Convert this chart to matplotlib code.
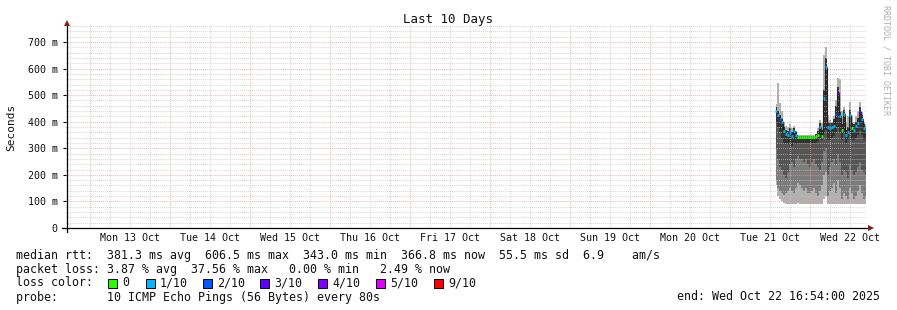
import pandas as pd
import matplotlib
matplotlib.use('Agg')
import matplotlib.pyplot as plt
import matplotlib.dates as mdates
from matplotlib.lines import Line2D
from matplotlib.patches import Rectangle
from matplotlib.ticker import MultipleLocator, FuncFormatter

# samples every 36 min, 21 Oct 13:48 .. 22 Oct 16:48 (values in ms)
times = pd.date_range('2025-10-21 13:48', periods=46, freq='36min')
median = [440, 425, 410, 400, 365, 355, 350, 360, 345, 365, 350, 343, 343, 343,
          343, 343, 343, 343, 343, 343, 345, 350, 380, 345, 490, 606, 380, 375,
          380, 385, 430, 508, 420, 370, 430, 350, 360, 425, 375, 370, 385, 395,
          437, 410, 375, 367]
smoke_max = [465, 545, 470, 440, 400, 385, 380, 390, 375, 385, 365, 350, 350, 350,
             350, 350, 350, 350, 350, 350, 355, 375, 405, 395, 650, 680, 425, 405,
             400, 420, 480, 565, 560, 440, 455, 400, 420, 475, 420, 400, 420, 440,
             475, 435, 400, 390]
smoke_hi = [455, 440, 425, 410, 380, 370, 365, 375, 360, 375, 360, 348, 348, 348,
            348, 348, 348, 348, 348, 348, 352, 365, 395, 370, 520, 640, 400, 395,
            395, 410, 460, 530, 440, 390, 445, 370, 380, 445, 395, 390, 400, 415,
            455, 425, 390, 380]
smoke_core = [400, 380, 360, 340, 320, 320, 315, 320, 310, 320, 315, 320, 320, 320,
              320, 320, 320, 320, 320, 320, 320, 325, 340, 330, 360, 370, 330, 330,
              340, 345, 360, 380, 360, 330, 360, 320, 330, 360, 330, 330, 340, 350,
              370, 350, 330, 330]
smoke_dark = [300, 260, 230, 220, 200, 190, 210, 240, 250, 230, 260, 270, 260, 260,
              250, 260, 240, 230, 250, 260, 240, 230, 220, 250, 290, 300, 200, 230,
              250, 260, 240, 280, 250, 200, 220, 210, 190, 240, 220, 200, 210, 230,
              250, 220, 210, 200]
smoke_mid = [180, 150, 140, 130, 125, 130, 140, 150, 140, 130, 150, 170, 160, 150,
             140, 150, 130, 130, 140, 150, 130, 120, 140, 160, 200, 210, 120, 140,
             150, 170, 130, 180, 150, 110, 130, 120, 110, 150, 130, 110, 120, 140,
             160, 130, 110, 120]
smoke_min = [160, 120, 110, 100, 95, 90, 90, 90, 90, 90, 90, 95, 90, 90, 90, 90, 90,
             90, 90, 90, 90, 90, 90, 90, 110, 120, 90, 90, 90, 90, 90, 90, 90, 90,
             90, 90, 90, 90, 90, 90, 90, 90, 90, 90, 90, 90]
loss = [1, 1, 2, 1, 1, 1, 1, 1, 1, 1, 1, 0, 0, 0, 0, 0, 0, 0, 0, 0, 0, 0, 1, 0, 1, 1,
        1, 1, 1, 1, 2, 3, 1, 0, 1, 1, 1, 1, 0, 1, 1, 1, 3, 1, 1, 1]

loss_labels = ['0', '1/10', '2/10', '3/10', '4/10', '5/10', '9/10']
loss_colors = ['#26ff00', '#00b8ff', '#0059ff', '#5e00ff', '#7e00ff', '#dd00ff', '#ff0000']
day_labels = ['Mon 13 Oct', 'Tue 14 Oct', 'Wed 15 Oct', 'Thu 16 Oct', 'Fri 17 Oct',
              'Sat 18 Oct', 'Sun 19 Oct', 'Mon 20 Oct', 'Tue 21 Oct', 'Wed 22 Oct']
end_time = pd.Timestamp('2025-10-22 16:54:00')

MONO = 'DejaVu Sans Mono'
W, H = 897, 310


def fx(px):
    return px / W


def fy(py):
    return 1 - py / H


fig = plt.figure(figsize=(W / 100, H / 100), dpi=100)
ax = fig.add_axes([fx(66), fy(228), 800 / W, (228 - 25) / H])

t = mdates.date2num(times)
ax.fill_between(t, smoke_min, smoke_max, step='mid', color='#b0b0b0', lw=0, zorder=1)
ax.fill_between(t, smoke_mid, smoke_hi, step='mid', color='#7c7c7c', lw=0, zorder=1.1)
ax.fill_between(t, smoke_dark, smoke_hi, step='mid', color='#555555', lw=0, zorder=1.2)
ax.fill_between(t, smoke_core, smoke_hi, step='mid', color='#333333', lw=0, zorder=1.3)

half = pd.Timedelta('18min')
ax.step(t, median, where='mid', color='#222222', lw=0.8, zorder=3)
ax.hlines(median, mdates.date2num(times - half), mdates.date2num(times + half),
          colors=[loss_colors[k] for k in loss], lw=2, zorder=4)

ax.set_xlim(mdates.date2num(end_time - pd.Timedelta(days=10)), mdates.date2num(end_time))
ax.set_ylim(0, 764)

ax.xaxis.set_major_locator(mdates.DayLocator())
ax.xaxis.set_minor_locator(mdates.HourLocator(byhour=[6, 12, 18]))
ax.xaxis.set_major_formatter(FuncFormatter(lambda v, p: ''))
ax.yaxis.set_major_locator(MultipleLocator(100))
ax.yaxis.set_minor_locator(MultipleLocator(20))
ax.yaxis.set_major_formatter(FuncFormatter(lambda v, p: '0' if v == 0 else '%d m' % v))

ax.set_axisbelow(False)
ax.grid(which='minor', color='#c4c4c4', lw=0.7, ls=(0, (0.7, 1.4)), zorder=2)
ax.grid(which='major', color='#e89a9a', lw=0.7, ls=(0, (0.7, 1.4)), zorder=2.1)

for s in ax.spines.values():
    s.set_visible(False)
ax.tick_params(axis='x', which='both', length=0, labelbottom=False)
ax.tick_params(axis='y', which='major', length=2, width=0.8, pad=4,
               labelsize=7.2, labelfontfamily=MONO, labelcolor='#111111')
ax.tick_params(axis='y', which='minor', length=0)

for i, lab in enumerate(day_labels):
    noon = pd.Timestamp('2025-10-13 12:00') + pd.Timedelta(days=i)
    ax.text(mdates.date2num(noon), -10 / 203, lab, transform=ax.get_xaxis_transform(),
            ha='center', va='center', fontsize=7.2, family=MONO, color='#111111')

# axes with arrows
fig.add_artist(Line2D([fx(62), fx(869)], [fy(228), fy(228)], color='black', lw=0.9))
fig.add_artist(Line2D([fx(66.5), fx(66.5)], [fy(232), fy(24)], color='black', lw=0.9))
fig.add_artist(Line2D([fx(870.5)], [fy(228)], marker='>', ms=4.5, color='#8b1a1a',
                      markeredgewidth=0))
fig.add_artist(Line2D([fx(66.5)], [fy(22.5)], marker='^', ms=4.5, color='#8b1a1a',
                      markeredgewidth=0))

fig.text(fx(448), fy(19), 'Last 10 Days', ha='center', va='center', fontsize=9,
         family=MONO, color='#111111')
fig.text(fx(11), fy(127), 'Seconds', rotation=90, ha='center', va='center',
         fontsize=8, family=MONO, color='#111111')
fig.text(fx(886), fy(5), 'RRDTOOL / TOBI OETIKER', rotation=270, ha='center', va='top',
         fontsize=6, family=MONO, color='#b0b0b0')

fs = 8.4
fig.text(fx(16), fy(255),
         'median rtt:  381.3 ms avg  606.5 ms max  343.0 ms min  366.8 ms now  '
         '55.5 ms sd  6.9    am/s', va='center', fontsize=fs, family=MONO, color='#111111')
fig.text(fx(16), fy(269),
         'packet loss: 3.87 % avg  37.56 % max   0.00 % min   2.49 % now',
         va='center', fontsize=fs, family=MONO, color='#111111')
fig.text(fx(16), fy(283), 'loss color:', va='center', fontsize=fs, family=MONO,
         color='#111111')
sq_x = [108, 146, 203, 260, 318, 376, 434]
for px, lab, col in zip(sq_x, loss_labels, loss_colors):
    fig.add_artist(Rectangle((fx(px), fy(287.5)), 9 / W, 9 / H, facecolor=col,
                             edgecolor='black', lw=0.7))
    fig.text(fx(px + 14), fy(283), lab, va='center', fontsize=fs, family=MONO,
             color='#111111')
fig.text(fx(16), fy(297), 'probe:       10 ICMP Echo Pings (56 Bytes) every 80s',
         va='center', fontsize=fs, family=MONO, color='#111111')
fig.text(fx(880), fy(297), 'end: Wed Oct 22 16:54:00 2025', ha='right', va='center',
         fontsize=fs, family=MONO, color='#111111')

fig.savefig('out.png', dpi=100, facecolor='white')
